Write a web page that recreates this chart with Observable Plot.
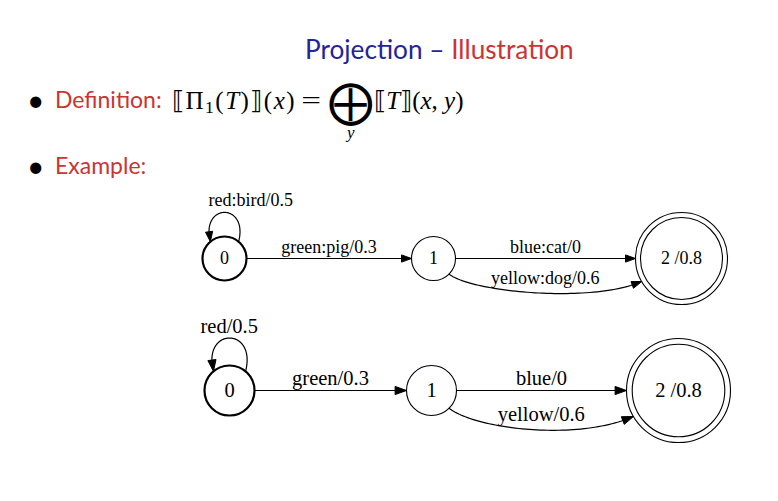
<!DOCTYPE html>
<html>
<head>
<meta charset="utf-8">
<script src="https://cdn.jsdelivr.net/npm/d3@7"></script>
<script src="https://cdn.jsdelivr.net/npm/@observablehq/plot@0.6"></script>
<style>
  body { margin: 0; background: #fff; }
  #slide { position: relative; width: 778px; height: 501px; overflow: hidden; font-family: Lato, "Open Sans", sans-serif; }
  .abs { position: absolute; white-space: nowrap; line-height: 1; }
  .blue { color: #23239b; }
  .red { color: #cc3333; }
  #title { left: 305px; top: 36px; font-size: 26.2px; }
  .bullet { left: 27px; font-size: 30px; color: #000; }
  .item { left: 55px; font-size: 23px; }
  #math { left: 172px; top: 88px; font-family: "Liberation Serif", serif; font-size: 25px; }
  #math .lhs { letter-spacing: 1.5px; }
  #math sub { font-size: 0.7em; vertical-align: -0.22em; line-height: 0; }
  #math .eq { display: inline-block; margin: 0 10px 0 8px; transform: scaleX(1.4); }
  .bigop { position: relative; display: inline-block; font-family: "DejaVu Sans", sans-serif; font-size: 45px; line-height: 0; vertical-align: -0.17em; margin-right: 1px; }
  .bigop .under { position: absolute; left: 50%; top: 22px; transform: translateX(-50%); font-family: "Liberation Serif", serif; font-style: italic; font-size: 17px; line-height: 1; }
  #chart { position: absolute; left: 0; top: 185px; }
</style>
</head>
<body>
<div id="slide">
  <div id="title" class="abs"><span class="blue">Projection –</span> <span class="red">Illustration</span></div>
  <div class="abs bullet" style="top:84px">•</div>
  <div class="abs item red" style="top:88px">Definition:</div>
  <div id="math" class="abs"><span class="lhs">⟦Π<sub>1</sub>(<i>T</i>)⟧(<i>x</i>)</span><span class="eq">=</span><span class="bigop">⨁<span class="under">y</span></span>⟦<i>T</i>⟧(<i>x</i>, <i>y</i>)</div>
  <div class="abs bullet" style="top:150px">•</div>
  <div class="abs item red" style="top:154px">Example:</div>
  <div id="chart"></div>
</div>
<script>
// automate : états et arcs (le même graphe avant / après projection)
const states = ["0", "1", "2"]
const stateText = ["0", "1", "2 /0.8"]
const startState = "0"
const finalState = "2"
const arcFrom = ["0", "0", "1", "1"]
const arcTo = ["0", "1", "2", "2"]
const transducerLabels = ["red:bird/0.5", "green:pig/0.3", "blue:cat/0", "yellow:dog/0.6"]
const projectedLabels = ["red/0.5", "green/0.3", "blue/0", "yellow/0.6"]

// mise en page des deux dessins (pixels de la page)
const layout = [
  {labels: transducerLabels, cy: 258, cx: [224, 433, 681], r: 22, rFinal: 46, s: 1, fontSize: 18, loopDx: -16, loopDy: -53, labelDy: -6, curveDy: 25},
  {labels: projectedLabels, cy: 390, cx: [229, 431, 678], r: 25, rFinal: 52, s: 1.14, fontSize: 20.5, loopDx: -29, loopDy: -58, labelDy: -6, curveDy: 30}
]

const W = 778, H = 501, TOP = 185

const bez = (p0, p1, p2, p3, t) => {
  const u = 1 - t
  return [0, 1].map(i => u*u*u*p0[i] + 3*u*u*t*p1[i] + 3*u*t*t*p2[i] + t*t*t*p3[i])
}
const onCircle = (c, r, deg) => [c[0] + r * Math.cos(deg * Math.PI / 180), c[1] + r * Math.sin(deg * Math.PI / 180)]

const nodes = [], paths = [], heads = [], labels = []

layout.forEach((g, gi) => {
  const center = id => [g.cx[states.indexOf(id)], g.cy]
  const radius = id => id === finalState ? g.rFinal : g.r

  states.forEach((id, i) => {
    nodes.push({x: g.cx[i], y: g.cy, r: radius(id), w: id === startState ? 2.2 : 1.1, text: stateText[i], size: g.fontSize})
    if (id === finalState) nodes.push({x: g.cx[i], y: g.cy, r: g.rFinal - 5 * g.s, w: 1.1, text: null})
  })

  const L = 10 * g.s, hw = 3.6 * g.s
  const seen = new Set()
  arcFrom.forEach((from, k) => {
    const to = arcTo[k], a = center(from), b = center(to), id = gi + "-" + k
    let pts, lx, ly, anchor = "middle"
    if (from === to) {
      // boucle au-dessus de l'état
      const p0 = onCircle(a, g.r, -50), p3 = onCircle(a, g.r, -130)
      const p1 = [p0[0] + 10 * g.s, p0[1] - 39 * g.s], p2 = [p3[0] - 10 * g.s, p3[1] - 39 * g.s]
      pts = d3.range(61).map(i => bez(p0, p1, p2, p3, i / 60))
      lx = a[0] + g.loopDx; ly = g.cy + g.loopDy; anchor = "start"
    } else if (!seen.has(from + to)) {
      const p0 = [a[0] + radius(from), a[1]], p3 = [b[0] - radius(to), b[1]]
      pts = [p0, p3]
      lx = (p0[0] + p3[0]) / 2; ly = g.cy + g.labelDy
    } else {
      // deuxième arc parallèle : courbe par en dessous
      const p0 = onCircle(a, radius(from), 45), p3 = onCircle(b, radius(to), 150)
      const p1 = [p0[0] + 22 * g.s, p0[1] + 18 * g.s], p2 = [p3[0] - 50 * g.s, p3[1] + 22 * g.s]
      pts = d3.range(61).map(i => bez(p0, p1, p2, p3, i / 60))
      lx = (p0[0] + p3[0]) / 2; ly = g.cy + g.curveDy
    }
    seen.add(from + to)

    const tip = pts[pts.length - 1]
    const body = pts.filter(p => Math.hypot(p[0] - tip[0], p[1] - tip[1]) >= L)
    const last = body[body.length - 1]
    const d = Math.hypot(tip[0] - last[0], tip[1] - last[1])
    const u = [(tip[0] - last[0]) / d, (tip[1] - last[1]) / d]
    const base = [tip[0] - L * u[0], tip[1] - L * u[1]]
    body.push(base)
    body.forEach(p => paths.push({id, x: p[0], y: p[1]}))
    const n = [-u[1], u[0]]
    ;[tip, [base[0] + hw * n[0], base[1] + hw * n[1]], [base[0] - hw * n[0], base[1] - hw * n[1]], tip]
      .forEach(p => heads.push({id, x: p[0], y: p[1]}))

    labels.push({x: lx, y: ly, text: g.labels[k], size: g.fontSize, anchor})
  })
})

const serif = "Liberation Serif, Times New Roman, serif"

const chart = Plot.plot({
  width: W,
  height: H - TOP,
  margin: 0,
  x: {domain: [0, W], range: [0, W], axis: null},
  y: {domain: [TOP, H], range: [0, H - TOP], axis: null},
  r: {type: "identity"},
  style: {background: "transparent"},
  marks: [
    Plot.line(paths, {x: "x", y: "y", z: "id", stroke: "black", strokeWidth: 1.2}),
    Plot.line(heads, {x: "x", y: "y", z: "id", fill: "black", stroke: "black", strokeWidth: 1}),
    Plot.dot(nodes, {x: "x", y: "y", r: "r", stroke: "black", strokeWidth: "w", fill: "none"}),
    Plot.text(nodes.filter(d => d.text), {x: "x", y: "y", text: "text", fontSize: "size", fontFamily: serif, fill: "black"}),
    Plot.text(labels.filter(d => d.anchor === "middle"), {x: "x", y: "y", text: "text", fontSize: "size", fontFamily: serif, lineAnchor: "bottom", fill: "black"}),
    Plot.text(labels.filter(d => d.anchor === "start"), {x: "x", y: "y", text: "text", fontSize: "size", fontFamily: serif, lineAnchor: "bottom", textAnchor: "start", fill: "black"})
  ]
})

d3.select('#chart').append(() => chart)
</script>
</body>
</html>
